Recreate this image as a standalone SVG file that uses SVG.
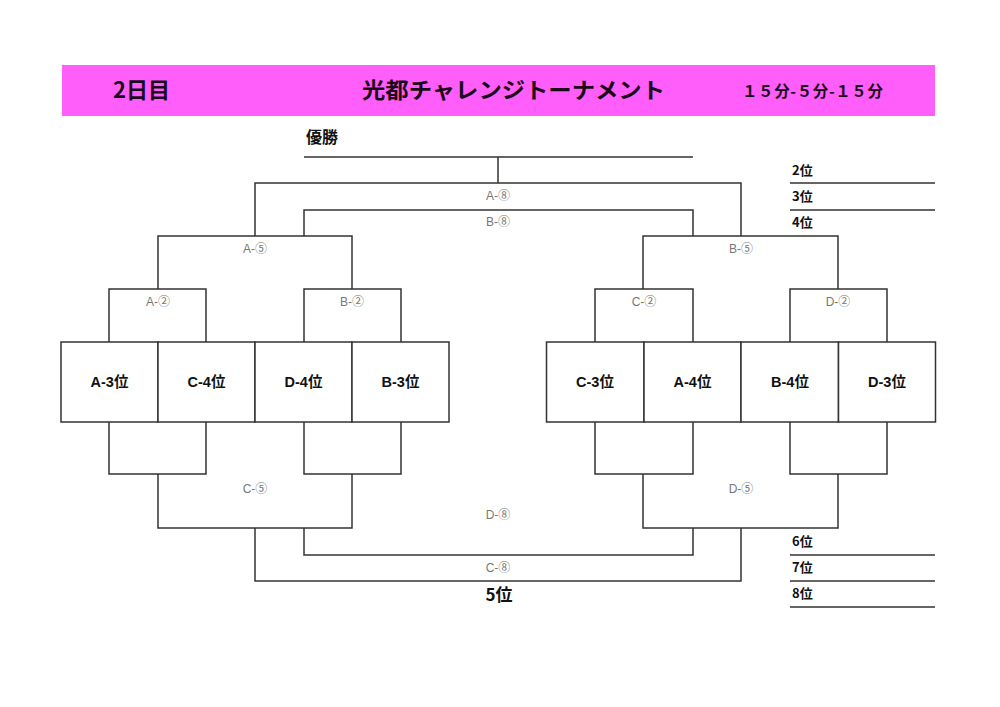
<svg xmlns="http://www.w3.org/2000/svg" width="1000" height="707" viewBox="0 0 1000 707">
<style>
.ln{fill:none;stroke:#333;stroke-width:1.5}
.bx{fill:#fff;stroke:#333;stroke-width:1.5}
.t{font-family:"Liberation Sans","Noto Sans CJK JP",sans-serif;font-weight:bold;fill:#111}
.h{font-family:"Noto Sans CJK JP","Liberation Sans",sans-serif;font-weight:bold;fill:#1a0a1a}
.bl{font-size:14.5px;text-anchor:middle}
.g{font-family:"Liberation Sans","Noto Sans CJK JP",sans-serif;font-size:12px;fill:#777;text-anchor:middle}
.r{font-family:"Noto Sans CJK JP",sans-serif;font-weight:bold;font-size:13px;fill:#111}
.big{font-size:17px}
.win{font-size:16px}
</style>
<rect width="1000" height="707" fill="#fff"/>
<g id="header">
<rect x="62" y="65" width="873" height="51" fill="#FF5EFA"/>
<text class="h" x="113" y="98" font-size="22">2日目</text>
<text class="h" x="362" y="98" font-size="22" textLength="303" lengthAdjust="spacingAndGlyphs">光都チャレンジトーナメント</text>
<text class="h" x="742" y="97" font-size="15.5" textLength="141" lengthAdjust="spacing">１５分-５分-１５分</text>
</g>
<g id="connectors">
<path class="ln" d="M304 157H693M498 157V183"/>
<path class="ln" d="M255 236V183H741V236"/>
<path class="ln" d="M304 236V210H693V236"/>
<path class="ln" d="M158 289V236H352V289"/>
<path class="ln" d="M643 289V236H838V289"/>
<path class="ln" d="M109 342V289H206V342"/>
<path class="ln" d="M304 342V289H401V342"/>
<path class="ln" d="M595 342V289H693V342"/>
<path class="ln" d="M790 342V289H887V342"/>
<path class="ln" d="M109 422V474H206V422"/>
<path class="ln" d="M304 422V474H401V422"/>
<path class="ln" d="M595 422V474H693V422"/>
<path class="ln" d="M790 422V474H887V422"/>
<path class="ln" d="M158 474V528H352V474"/>
<path class="ln" d="M643 474V528H838V474"/>
<path class="ln" d="M304 528V555H693V528"/>
<path class="ln" d="M255 528V581H741V528"/>
<path class="ln" d="M790 183H935M790 210H935M790 555H935M790 581H935M790 607H935"/>
</g>
<g id="match-labels">
<text class="g" x="498" y="200">A-⑧</text>
<text class="g" x="498" y="226">B-⑧</text>
<text class="g" x="255" y="253">A-⑤</text>
<text class="g" x="741" y="253">B-⑤</text>
<text class="g" x="158" y="306">A-②</text>
<text class="g" x="352" y="306">B-②</text>
<text class="g" x="644" y="306">C-②</text>
<text class="g" x="838" y="306">D-②</text>
<text class="g" x="255" y="493">C-⑤</text>
<text class="g" x="741" y="493">D-⑤</text>
<text class="g" x="498" y="519">D-⑧</text>
<text class="g" x="498" y="572">C-⑧</text>
</g>
<g id="n-winner"><text class="r win" x="306" y="143">優勝</text></g>
<g id="n-5th"><text class="r big" x="499" y="601" text-anchor="middle">5位</text></g>
<g id="ranks">
<text class="r" x="792" y="175">2位</text>
<text class="r" x="792" y="201">3位</text>
<text class="r" x="792" y="227">4位</text>
<text class="r" x="792" y="546">6位</text>
<text class="r" x="792" y="572">7位</text>
<text class="r" x="792" y="598">8位</text>
</g>
<g id="n-a3"><rect class="bx" x="61" y="342" width="97" height="80"/><text class="t bl" x="109.5" y="387">A-3位</text></g>
<g id="n-c4"><rect class="bx" x="158" y="342" width="97" height="80"/><text class="t bl" x="206.5" y="387">C-4位</text></g>
<g id="n-d4"><rect class="bx" x="255" y="342" width="97" height="80"/><text class="t bl" x="303.5" y="387">D-4位</text></g>
<g id="n-b3"><rect class="bx" x="352" y="342" width="97" height="80"/><text class="t bl" x="400.5" y="387">B-3位</text></g>
<g id="n-c3"><rect class="bx" x="546.5" y="342" width="97.5" height="80"/><text class="t bl" x="595" y="387">C-3位</text></g>
<g id="n-a4"><rect class="bx" x="644" y="342" width="97" height="80"/><text class="t bl" x="692.5" y="387">A-4位</text></g>
<g id="n-b4"><rect class="bx" x="741" y="342" width="97.5" height="80"/><text class="t bl" x="790" y="387">B-4位</text></g>
<g id="n-d3"><rect class="bx" x="838.5" y="342" width="97" height="80"/><text class="t bl" x="887" y="387">D-3位</text></g>
</svg>
